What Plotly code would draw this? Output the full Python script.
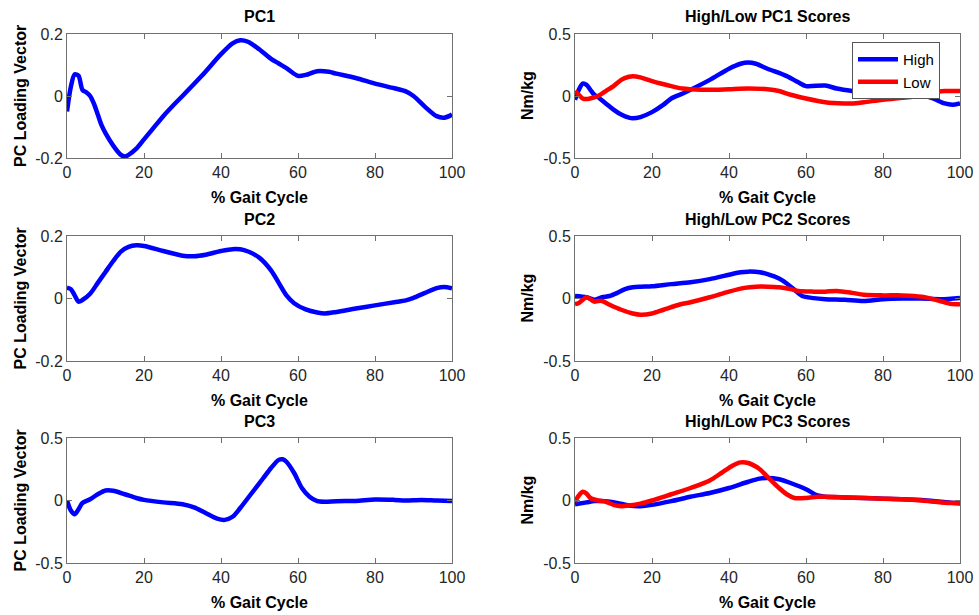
import plotly.graph_objects as go

# ---- data ----
pc1_x = [0,1,2,3,4,5,6,7,8,9,10,12,14,15,16,18,20,22,25,28,30,35,40,43,45,47,50,53,55,57,60,62,65,68,70,75,80,85,88,90,93,96,98,100]
pc1_y = [-0.05,0.03,0.07,0.065,0.02,0.012,0,-0.025,-0.06,-0.095,-0.12,-0.16,-0.19,-0.195,-0.19,-0.17,-0.14,-0.11,-0.065,-0.025,0,0.065,0.135,0.17,0.18,0.175,0.15,0.12,0.105,0.09,0.065,0.068,0.08,0.078,0.072,0.058,0.04,0.025,0.015,0,-0.035,-0.065,-0.07,-0.06]

pc2_x = [0,1,2,3,4,6,8,10,12,14,16,18,20,25,30,33,36,40,43,46,50,53,55,57,59,62,65,67,70,75,80,85,88,90,93,96,98,100]
pc2_y = [0.035,0.03,0.01,-0.01,-0.005,0.015,0.05,0.085,0.12,0.15,0.165,0.17,0.168,0.152,0.137,0.135,0.14,0.152,0.158,0.155,0.13,0.09,0.05,0.01,-0.015,-0.035,-0.045,-0.048,-0.043,-0.032,-0.022,-0.012,-0.006,0.002,0.018,0.033,0.037,0.033]

pc3_x = [0,1,2,3,4,6,8,10,12,15,18,20,25,30,33,36,39,41,43,45,48,51,53,55,56,57,59,61,63,65,67,70,75,80,85,88,92,96,100]
pc3_y = [0,-0.08,-0.11,-0.07,-0.02,0.01,0.05,0.08,0.078,0.05,0.02,0.005,-0.015,-0.03,-0.055,-0.1,-0.145,-0.155,-0.13,-0.06,0.06,0.18,0.26,0.325,0.33,0.31,0.22,0.1,0.03,-0.005,-0.01,-0.005,-0.003,0.008,0.005,0,0.005,0,-0.003]

s1_high_x = [0,1,2,3,4,5,6,8,10,12,14,15,17,20,23,25,28,30,35,40,43,45,47,50,55,58,60,65,68,72,75,80,85,88,90,93,96,98,100]
s1_high_y = [-0.03,0.05,0.1,0.09,0.05,0.01,-0.01,-0.06,-0.11,-0.15,-0.175,-0.18,-0.17,-0.13,-0.07,-0.02,0.02,0.05,0.13,0.22,0.26,0.27,0.26,0.22,0.16,0.11,0.08,0.085,0.06,0.04,0.03,0.03,0.03,0.025,0.01,-0.02,-0.06,-0.07,-0.06]
s1_low_x = [0,1,2,3,5,6,8,10,12,14,15,17,20,25,28,30,35,40,45,50,53,56,60,65,70,72,75,80,85,88,90,93,96,100]
s1_low_y = [0.04,0.01,-0.02,-0.025,-0.01,0.0,0.04,0.08,0.13,0.155,0.16,0.15,0.12,0.08,0.06,0.055,0.05,0.055,0.06,0.055,0.04,0.01,-0.02,-0.05,-0.06,-0.06,-0.05,-0.03,-0.015,-0.005,0.01,0.03,0.04,0.04]

s2_high_x = [0,3,5,7,9,11,13,15,17,20,25,30,35,40,43,45,48,50,53,55,57,59,62,65,70,75,80,85,90,95,100]
s2_high_y = [0.02,0.01,-0.01,0.01,0.02,0.045,0.075,0.09,0.095,0.098,0.115,0.13,0.155,0.19,0.21,0.215,0.21,0.195,0.16,0.12,0.07,0.02,0.003,-0.005,-0.01,-0.02,-0.005,0,0,-0.005,0.005]
s2_low_x = [0,1,3,4,5,6,7,9,12,15,17,20,23,27,30,35,40,44,47,50,53,56,58,62,65,68,72,75,80,85,90,93,96,98,100]
s2_low_y = [-0.045,-0.035,0.01,-0.005,-0.025,-0.02,-0.02,-0.05,-0.09,-0.12,-0.13,-0.12,-0.09,-0.05,-0.03,0.01,0.055,0.085,0.095,0.095,0.09,0.075,0.06,0.055,0.055,0.06,0.045,0.03,0.025,0.025,0.015,-0.005,-0.03,-0.045,-0.045]

s3_high_x = [0,3,5,8,11,14,17,20,25,30,35,40,45,48,50,53,56,60,63,65,70,75,80,85,90,95,100]
s3_high_y = [-0.03,-0.015,-0.005,-0.005,-0.02,-0.04,-0.045,-0.035,-0.005,0.03,0.06,0.1,0.15,0.175,0.18,0.17,0.14,0.09,0.04,0.03,0.025,0.02,0.015,0.01,0.005,-0.01,-0.025]
s3_low_x = [0,1,2,3,4,6,8,10,12,14,17,20,25,30,35,38,41,43,45,48,50,53,55,57,60,63,65,70,80,85,90,95,98,100]
s3_low_y = [-0.01,0.04,0.07,0.055,0.02,0.0,-0.01,-0.035,-0.045,-0.04,-0.025,0.0,0.05,0.1,0.16,0.22,0.28,0.305,0.3,0.25,0.19,0.1,0.05,0.02,0.02,0.03,0.03,0.025,0.015,0.01,0.0,-0.015,-0.02,-0.015]

x_ticks = [0, 20, 40, 60, 80, 100]
y_ticks_small = [-0.2, 0, 0.2]
y_ticks_small_txt = ["-0.2", "0", "0.2"]
y_ticks_big = [-0.5, 0, 0.5]
y_ticks_big_txt = ["-0.5", "0", "0.5"]

titles = ["PC1", "High/Low PC1 Scores", "PC2", "High/Low PC2 Scores", "PC3", "High/Low PC3 Scores"]

# ---- layout geometry ----
W, H = 979, 615
col_px = [(67, 452), (575, 960)]
row_px = [(34, 158), (236, 361), (438, 563)]

BLUE = "#0000ff"
RED = "#ff0000"
FONT = "Liberation Sans, Arial, Helvetica, sans-serif"
LW = 4.5

fig = go.Figure()

panels = [
    (0, 0, [(pc1_x, pc1_y, BLUE, None)], y_ticks_small, y_ticks_small_txt, [-0.2, 0.2], "PC Loading Vector"),
    (0, 1, [(s1_high_x, s1_high_y, BLUE, "High"), (s1_low_x, s1_low_y, RED, "Low")], y_ticks_big, y_ticks_big_txt, [-0.5, 0.5], "Nm/kg"),
    (1, 0, [(pc2_x, pc2_y, BLUE, None)], y_ticks_small, y_ticks_small_txt, [-0.2, 0.2], "PC Loading Vector"),
    (1, 1, [(s2_high_x, s2_high_y, BLUE, None), (s2_low_x, s2_low_y, RED, None)], y_ticks_big, y_ticks_big_txt, [-0.5, 0.5], "Nm/kg"),
    (2, 0, [(pc3_x, pc3_y, BLUE, None)], y_ticks_big, y_ticks_big_txt, [-0.5, 0.5], "PC Loading Vector"),
    (2, 1, [(s3_high_x, s3_high_y, BLUE, None), (s3_low_x, s3_low_y, RED, None)], y_ticks_big, y_ticks_big_txt, [-0.5, 0.5], "Nm/kg"),
]

annotations = []
for i, (r, c, series, yt, ytt, yr, ylab) in enumerate(panels):
    n = i + 1
    xa = "x" if n == 1 else f"x{n}"
    ya = "y" if n == 1 else f"y{n}"
    x0, x1 = col_px[c]
    y0, y1 = row_px[r]
    dom_x = [x0 / W, x1 / W]
    dom_y = [1 - y1 / H, 1 - y0 / H]
    for sx, sy, col, name in series:
        fig.add_trace(go.Scatter(
            x=sx, y=sy, mode="lines", line=dict(color=col, width=LW, shape="spline", smoothing=0.8),
            name=name if name else "", showlegend=bool(name), xaxis=xa, yaxis=ya,
            hoverinfo="skip"))
    axcommon = dict(showgrid=False, zeroline=False, showline=True, linecolor="#707070", linewidth=1,
                    mirror="allticks", ticks="inside", ticklen=5, tickcolor="#707070",
                    automargin=False,
                    tickfont=dict(family=FONT, size=16, color="#262626"))
    xkey = "xaxis" if n == 1 else f"xaxis{n}"
    ykey = "yaxis" if n == 1 else f"yaxis{n}"
    fig.layout[xkey] = dict(domain=dom_x, range=[0, 100], tickvals=x_ticks, anchor=ya, **axcommon)
    fig.layout[ykey] = dict(domain=dom_y, range=yr, tickvals=yt, ticktext=ytt, anchor=xa, **axcommon)
    cx = (x0 + x1) / 2 / W
    annotations.append(dict(text=f"<b>{titles[i]}</b>", x=cx, y=1 - (y0 - 17) / H, xref="paper", yref="paper",
                            xanchor="center", yanchor="middle", showarrow=False,
                            font=dict(family=FONT, size=16, color="#000")))
    annotations.append(dict(text="<b>% Gait Cycle</b>", x=cx, y=1 - (y1 + 39) / H, xref="paper", yref="paper",
                            xanchor="center", yanchor="middle", showarrow=False,
                            font=dict(family=FONT, size=16, color="#000")))
    lx = 20 if c == 0 else 527
    annotations.append(dict(text=f"<b>{ylab}</b>", x=lx / W, y=1 - (y0 + y1) / 2 / H, xref="paper", yref="paper",
                            xanchor="center", yanchor="middle", showarrow=False, textangle=-90,
                            font=dict(family=FONT, size=16, color="#000")))

fig.update_layout(
    width=W, height=H, margin=dict(l=0, r=0, t=0, b=0, pad=0, autoexpand=False),
    paper_bgcolor="white", plot_bgcolor="white",
    annotations=annotations,
    legend=dict(x=852 / W, y=1 - 42 / H, xanchor="left", yanchor="top",
                bgcolor="white", bordercolor="#555555", borderwidth=1,
                font=dict(family=FONT, size=15, color="#000"),
                tracegroupgap=0, itemwidth=40),
    showlegend=True,
)

fig.write_html("out.html")
